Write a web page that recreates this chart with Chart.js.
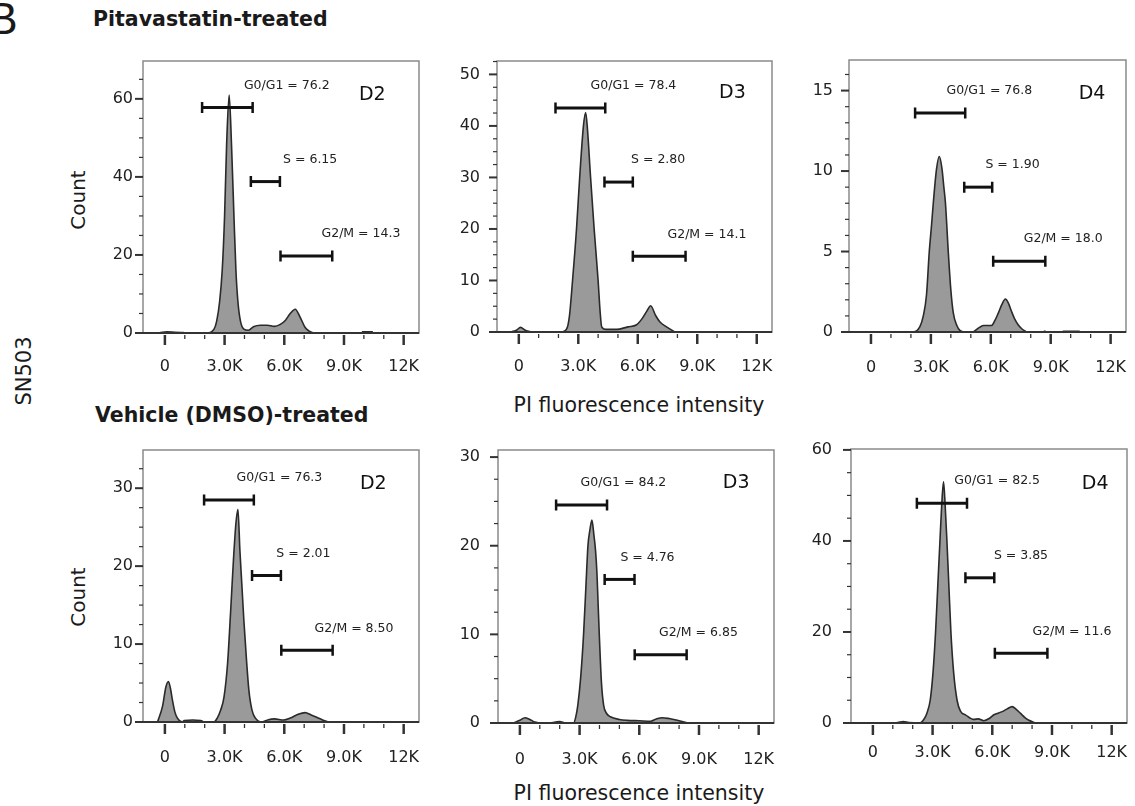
<!DOCTYPE html>
<html>
<head>
<meta charset="utf-8">
<script src="https://cdn.jsdelivr.net/npm/chart.js@4.4.0/dist/chart.umd.min.js"></script>
<style>
  body { margin: 0; width: 1135px; height: 806px; position: relative; overflow: hidden; background: #fff; font-family: 'DejaVu Sans', sans-serif; color: #1a1a1a; }
  .txt { position: absolute; white-space: nowrap; line-height: 1; transform: translate(-50%, -50%); }
  .head { position: absolute; white-space: nowrap; line-height: 1; transform: translateY(-50%); font-weight: bold; font-size: 20.5px; }
  .rot { transform: translate(-50%, -50%) rotate(-90deg); }
  canvas { position: absolute; }
</style>
</head>
<body>
<div class="txt" style="left:3px; top:19px; font-family:'Liberation Sans'; font-size:44px;">B</div>
<div class="head" style="left:93px; top:19px;">Pitavastatin-treated</div>
<div class="head" style="left:95px; top:415px;">Vehicle (DMSO)-treated</div>
<div class="txt rot" style="left:24px; top:371px; font-size:21px;">SN503</div>
<div class="txt rot" style="left:78px; top:200px; font-size:20px;">Count</div>
<div class="txt rot" style="left:78px; top:597px; font-size:20px;">Count</div>
<div class="txt" style="left:639px; top:405px; font-size:20.5px;">PI fluorescence intensity</div>
<div class="txt" style="left:639px; top:793px; font-size:20.5px;">PI fluorescence intensity</div>

<script>
// x axis (PI intensity, in thousands)
const xTickVals = [0, 3, 6, 9, 12];
const xTickLabels = ['0', '3.0K', '6.0K', '9.0K', '12K'];
const phaseNames = ['G0/G1', 'S', 'G2/M'];

// Pitavastatin D2
const pitD2X = [-0.25, 0.1, 0.5, 0.95, 1.2, 1.4, 2.1, 2.47, 2.6, 2.75, 2.88, 3.0, 3.1, 3.23, 3.35, 3.47, 3.57, 3.67, 3.8, 3.97, 4.2, 4.45, 4.8, 5.15, 5.5, 5.8, 6.05, 6.3, 6.55, 6.8, 7.05, 7.25, 7.47, 8.5, 9.9, 10.45];
const pitD2Y = [0.1, 0.3, 0.2, 0.1, null, 0, 0, 1, 3, 8, 16, 30, 48, 61, 48, 30, 16, 8, 3, 1, 0.7, 1.6, 2, 2, 1.7, 2.2, 3.2, 5, 6.1, 4, 1.4, 0.5, 0, null, 0.3, 0.3];
const pitD2YTicks = [0, 20, 40, 60];
const pitD2Gates = [[1.87, 4.41, 57.8], [4.32, 5.78, 38.8], [5.81, 8.41, 19.7]];
const pitD2Pct = ['76.2', '6.15', '14.3'];

// Pitavastatin D3
const pitD3X = [-0.37, -0.1, 0.08, 0.35, 0.64, 0.75, 0.85, 1.35, 1.42, 1.5, 1.95, 2.05, 2.15, 2.4, 2.55, 2.71, 2.91, 3.07, 3.26, 3.37, 3.45, 3.62, 3.8, 4.0, 4.1, 4.18, 4.4, 4.93, 5.5, 5.94, 6.2, 6.45, 6.65, 6.9, 7.11, 7.45, 7.88, 8.2, 8.47, 9.73, 9.9, 10.05, 11.0];
const pitD3Y = [0, 0.4, 0.9, 0.3, 0, null, 0, 0, null, 0, 0, null, 0, 0.5, 3, 10, 20, 30, 40, 42.6, 40, 30, 20, 10, 4, 1, 0.5, 0.5, 1, 1.4, 2.5, 4, 5.1, 3.2, 2, 1, 0, null, 0, 0, null, 0, 0];
const pitD3YTicks = [0, 10, 20, 30, 40, 50];
const pitD3Gates = [[1.85, 4.36, 43.5], [4.32, 5.75, 29.1], [5.75, 8.41, 14.7]];
const pitD3Pct = ['78.4', '2.80', '14.1'];

// Pitavastatin D4
const pitD4X = [0.28, 1.2, 2.12, 2.45, 2.62, 2.78, 2.92, 3.03, 3.12, 3.28, 3.42, 3.55, 3.65, 3.73, 3.87, 4.0, 4.12, 4.3, 4.45, 4.62, 4.9, 5.12, 5.45, 5.65, 6.03, 6.2, 6.37, 6.55, 6.73, 6.88, 7.03, 7.2, 7.37, 7.55, 7.78, 8.2, 8.65, 8.75, 9.2, 9.6, 10.45];
const pitD4Y = [0, 0, 0, 0.33, 1, 2.3, 5, 6.6, 8, 10.1, 10.9, 10.2, 9, 8, 5, 2.6, 1.2, 0.4, 0.1, 0, null, 0, 0.3, 0.4, 0.4, 0.7, 1.16, 1.7, 2.05, 1.8, 1.3, 0.8, 0.45, 0.2, 0, null, 0.05, 0.05, null, 0.05, 0.05];
const pitD4YTicks = [0, 5, 10, 15];
const pitD4Gates = [[2.21, 4.72, 13.6], [4.67, 6.07, 9.0], [6.12, 8.73, 4.4]];
const pitD4Pct = ['76.8', '1.90', '18.0'];

// Vehicle D2
const vehD2X = [-0.37, -0.12, 0.05, 0.18, 0.28, 0.38, 0.5, 0.63, 0.88, 0.97, 1.4, 1.8, 1.97, 2.47, 2.63, 2.8, 2.97, 3.15, 3.3, 3.45, 3.57, 3.67, 3.77, 3.87, 3.97, 4.1, 4.22, 4.38, 4.55, 4.88, 5.2, 5.5, 5.97, 6.3, 6.7, 7.05, 7.35, 7.63, 7.9, 8.22];
const vehD2Y = [0, 2, 4.5, 5.2, 4.3, 2.8, 1.3, 0.5, 0, 0.2, 0.25, 0.2, 0, 0, 0.5, 1.5, 3.2, 7.5, 14, 21, 25.5, 27.3, 22, 17.5, 13, 8, 4.1, 1.5, 0.5, 0, 0.3, 0.4, 0.25, 0.5, 1.0, 1.2, 0.9, 0.6, 0.3, 0];
const vehD2YTicks = [0, 10, 20, 30];
const vehD2Gates = [[1.97, 4.47, 28.5], [4.38, 5.83, 18.8], [5.85, 8.43, 9.2]];
const vehD2Pct = ['76.3', '2.01', '8.50'];

// Vehicle D3
const vehD3X = [-0.34, 0.0, 0.25, 0.5, 0.75, 1.0, 1.25, 1.5, 2.0, 2.3, 2.7, 2.8, 2.91, 3.05, 3.2, 3.32, 3.42, 3.52, 3.62, 3.72, 3.8, 3.87, 3.93, 3.99, 4.1, 4.21, 4.35, 4.55, 5.0, 5.39, 6.0, 6.57, 6.85, 7.16, 7.5, 7.91, 8.42];
const vehD3Y = [0, 0.3, 0.6, 0.4, 0.1, 0, null, 0, 0.15, 0, 0, 0.6, 2, 5, 10, 15.5, 20, 21.8, 22.9, 21.2, 19.5, 17, 13.5, 10, 4.5, 2, 1.1, 0.7, 0.4, 0.3, 0.25, 0.2, 0.45, 0.6, 0.5, 0.3, 0];
const vehD3YTicks = [0, 10, 20, 30];
const vehD3Gates = [[1.82, 4.38, 24.6], [4.26, 5.76, 16.2], [5.77, 8.38, 7.7]];
const vehD3Pct = ['84.2', '4.76', '6.85'];

// Vehicle D4
const vehD4X = [-0.07, 0.6, 0.75, 0.94, 1.25, 1.53, 1.8, 2.37, 2.55, 2.71, 2.88, 3.02, 3.15, 3.26, 3.37, 3.46, 3.55, 3.63, 3.72, 3.82, 3.92, 4.06, 4.23, 4.4, 4.65, 5.07, 5.3, 5.57, 5.85, 6.08, 6.5, 6.75, 7.0, 7.2, 7.42, 7.64, 7.84, 8.18];
const vehD4Y = [0, 0, null, 0, 0.1, 0.3, 0.1, 0, 0.7, 2.1, 5, 11, 20, 30, 40, 48, 53, 48, 40, 30, 20, 11, 5, 2.6, 1.8, 0.8, 0.9, 0.5, 1.0, 1.8, 2.5, 3.1, 3.6, 3.0, 2.1, 1.2, 0.6, 0];
const vehD4YTicks = [0, 20, 40, 60];
const vehD4Gates = [[2.21, 4.73, 48.3], [4.65, 6.1, 31.9], [6.13, 8.77, 15.3]];
const vehD4Pct = ['82.5', '3.85', '11.6'];

// layout of each panel: plot box [left, top, right, bottom] in page pixels
const panels = [
  { xs: pitD2X, ys: pitD2Y, yTicks: pitD2YTicks, gates: pitD2Gates, pct: pitD2Pct, day: 'D2',
    yMax: 69.7, yMinor: 5, box: [143, 61, 419, 333], yPad: 10, xPad: 24, labelX: [3.97, 5.94, 7.87], dayPos: [9.75, 60.9] },
  { xs: pitD3X, ys: pitD3Y, yTicks: pitD3YTicks, gates: pitD3Gates, pct: pitD3Pct, day: 'D3',
    yMax: 52.6, yMinor: 2.5, box: [497, 61, 772, 332], yPad: 17, xPad: 25, labelX: [3.62, 5.66, 7.5], dayPos: [10.1, 46.3] },
  { xs: pitD4X, ys: pitD4Y, yTicks: pitD4YTicks, gates: pitD4Gates, pct: pitD4Pct, day: 'D4',
    yMax: 16.9, yMinor: 1, box: [849, 60, 1126, 332], yPad: 16, xPad: 26, labelX: [3.78, 5.73, 7.65], dayPos: [10.4, 14.8] },
  { xs: vehD2X, ys: vehD2Y, yTicks: vehD2YTicks, gates: vehD2Gates, pct: vehD2Pct, day: 'D2',
    yMax: 34.9, yMinor: 2.5, box: [143, 450, 419, 722], yPad: 10, xPad: 26, labelX: [3.6, 5.6, 7.52], dayPos: [9.8, 30.5] },
  { xs: vehD3X, ys: vehD3Y, yTicks: vehD3YTicks, gates: vehD3Gates, pct: vehD3Pct, day: 'D3',
    yMax: 30.8, yMinor: 2.5, box: [498, 450, 774, 723], yPad: 18, xPad: 27, labelX: [3.05, 5.05, 6.99], dayPos: [10.2, 27.1] },
  { xs: vehD4X, ys: vehD4Y, yTicks: vehD4YTicks, gates: vehD4Gates, pct: vehD4Pct, day: 'D4',
    yMax: 60.2, yMinor: 5, box: [851, 449, 1127, 723], yPad: 19, xPad: 20, labelX: [4.09, 6.08, 8.02], dayPos: [10.5, 52.5] }
];

const YW = 60, XH = 60, PAD = 40;

function makeFrame(p) {
  return {
    id: 'frame',
    afterDatasetsDraw(chart) {
      const { ctx, chartArea: a, scales: { x, y } } = chart;
      const majorStep = p.yTicks[1] - p.yTicks[0];
      ctx.save();
      // box
      ctx.strokeStyle = '#8a8a8a';
      ctx.lineWidth = 1.5;
      ctx.strokeRect(a.left, a.top, a.right - a.left, a.bottom - a.top);
      // y ticks (major + minor)
      ctx.strokeStyle = '#333';
      for (let v = 0; v <= p.yMax + 1e-6; v += p.yMinor) {
        const major = Math.abs(v / majorStep - Math.round(v / majorStep)) < 1e-6;
        const py = y.getPixelForValue(v);
        ctx.lineWidth = major ? 2 : 1.2;
        ctx.beginPath();
        ctx.moveTo(a.left - (major ? 8 : 4), py);
        ctx.lineTo(a.left, py);
        ctx.stroke();
      }
      // bottom axis line
      ctx.lineWidth = 2;
      ctx.beginPath();
      ctx.moveTo(a.left - 8, a.bottom);
      ctx.lineTo(a.right, a.bottom);
      ctx.stroke();
      // x ticks
      for (let v = 0; v <= 12; v += 1) {
        const major = v % 3 === 0;
        const px = x.getPixelForValue(v);
        ctx.lineWidth = major ? 2.5 : 1.3;
        ctx.beginPath();
        ctx.moveTo(px, a.bottom + 2);
        ctx.lineTo(px, a.bottom + (major ? 12 : 6));
        ctx.stroke();
      }
      // gates
      p.gates.forEach((g, i) => {
        const x1 = x.getPixelForValue(g[0]);
        const x2 = x.getPixelForValue(g[1]);
        const py = y.getPixelForValue(g[2]);
        ctx.strokeStyle = '#111';
        ctx.lineWidth = 3;
        ctx.beginPath();
        ctx.moveTo(x1, py);
        ctx.lineTo(x2, py);
        ctx.stroke();
        ctx.lineWidth = 2.5;
        ctx.beginPath();
        ctx.moveTo(x1, py - 5.5); ctx.lineTo(x1, py + 5.5);
        ctx.moveTo(x2, py - 5.5); ctx.lineTo(x2, py + 5.5);
        ctx.stroke();
        ctx.fillStyle = '#222';
        ctx.font = '12.5px "DejaVu Sans"';
        ctx.textAlign = 'left';
        ctx.textBaseline = 'middle';
        ctx.fillText(phaseNames[i] + ' = ' + p.pct[i], x.getPixelForValue(p.labelX[i]), py - 22);
      });
      // day label
      ctx.fillStyle = '#111';
      ctx.font = '19px "DejaVu Sans"';
      ctx.fillText(p.day, x.getPixelForValue(p.dayPos[0]), y.getPixelForValue(p.dayPos[1]));
      ctx.restore();
    }
  };
}

panels.forEach(p => {
  const [l, t, r, b] = p.box;
  const canvas = document.createElement('canvas');
  canvas.width = r - l + YW + PAD;
  canvas.height = b - t + PAD + XH;
  canvas.style.left = (l - YW) + 'px';
  canvas.style.top = (t - PAD) + 'px';
  document.body.appendChild(canvas);

  new Chart(canvas, {
    type: 'line',
    data: {
      datasets: [{
        data: p.xs.map((v, i) => ({ x: v, y: p.ys[i] })),
        borderColor: '#2a2a2a',
        borderWidth: 1.6,
        backgroundColor: '#9a9a9a',
        fill: 'origin',
        pointRadius: 0,
        tension: 0.4,
        cubicInterpolationMode: 'monotone',
        spanGaps: false
      }]
    },
    options: {
      responsive: false,
      animation: false,
      events: [],
      layout: { padding: { left: 0, top: PAD, right: PAD, bottom: 0 } },
      plugins: { legend: { display: false }, tooltip: { enabled: false } },
      scales: {
        x: {
          type: 'linear',
          min: -1.1,
          max: 12.77,
          grid: { display: false, drawTicks: false },
          border: { display: false },
          afterBuildTicks: s => { s.ticks = xTickVals.map(v => ({ value: v })); },
          afterFit: s => { s.height = XH; },
          ticks: {
            padding: p.xPad,
            color: '#222',
            autoSkip: false,
            maxRotation: 0,
            font: { family: 'DejaVu Sans', size: 16 },
            callback: v => xTickLabels[xTickVals.indexOf(v)]
          }
        },
        y: {
          min: 0,
          max: p.yMax,
          grid: { display: false, drawTicks: false },
          border: { display: false },
          afterBuildTicks: s => { s.ticks = p.yTicks.map(v => ({ value: v })); },
          afterFit: s => { s.width = YW; },
          ticks: {
            padding: p.yPad,
            color: '#222',
            autoSkip: false,
            font: { family: 'DejaVu Sans', size: 16 }
          }
        }
      }
    },
    plugins: [makeFrame(p)]
  });
});
</script>
</body>
</html>
